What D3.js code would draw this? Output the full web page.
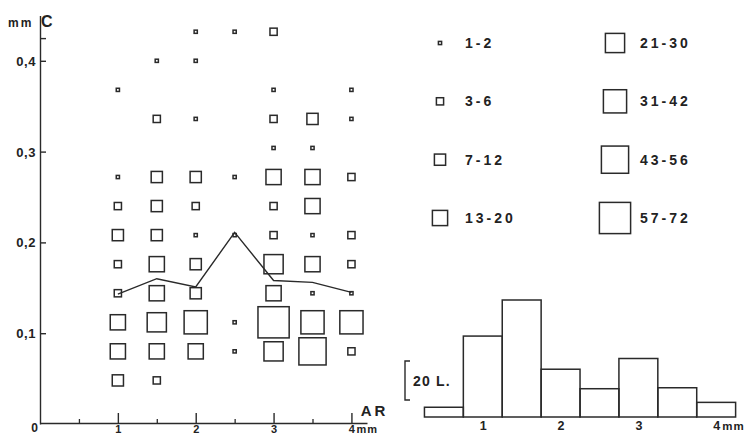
<!DOCTYPE html>
<html>
<head>
<meta charset="utf-8">
<script src="https://cdn.jsdelivr.net/npm/d3@7"></script>
<style>
  body { margin: 0; background: #fff; }
  svg { display: block; }
  text { font-family: "Liberation Sans", Arial, sans-serif; font-weight: bold; fill: #222; }
</style>
</head>
<body>
<svg id="chart" width="747" height="434"></svg>
<script>
// Root-length classes (AR, mm) and diameter classes (C, mm)
const arClasses = [1, 1.5, 2, 2.5, 3, 3.5, 4];
const cClasses = [0.432, 0.400, 0.368, 0.336, 0.304, 0.272, 0.240, 0.208, 0.176, 0.144, 0.112, 0.080, 0.048];

// Frequency class (1..8, 0 = none) for each C row (top to bottom) and AR column
const freqClass = [
  [0, 0, 1, 1, 2, 0, 0],
  [0, 1, 1, 0, 0, 0, 0],
  [1, 0, 0, 0, 1, 0, 1],
  [0, 2, 1, 0, 2, 3, 1],
  [0, 0, 0, 0, 1, 1, 0],
  [1, 3, 3, 1, 4, 4, 2],
  [2, 3, 2, 0, 2, 4, 0],
  [3, 3, 1, 1, 2, 1, 2],
  [2, 4, 3, 0, 5, 4, 2],
  [2, 4, 3, 0, 4, 1, 1],
  [4, 5, 6, 1, 8, 6, 6],
  [4, 4, 4, 1, 5, 7, 2],
  [3, 2, 0, 0, 0, 0, 0]
];

// Mean C per AR class
const meanC = [0.143, 0.160, 0.151, 0.211, 0.158, 0.156, 0.145];

// Legend: frequency ranges of the eight square sizes
const legendLabels = ["1-2", "3-6", "7-12", "13-20", "21-30", "31-42", "43-56", "57-72"];

// Histogram of AR
const histAR = [0.5, 1, 1.5, 2, 2.5, 3, 3.5, 4];
const histCount = [5, 41.5, 60, 24.5, 14.5, 30, 15, 7.5];

const yTickValues = [0, 0.1, 0.2, 0.3, 0.4];
const yTickLabels = ["0", "0,1", "0,2", "0,3", "0,4"];
const xTickValues = [1, 2, 3, 4];
const xTickLabels = ["1", "2", "3", "4"];

const ink = "#2a2a2a";
const svg = d3.select("#chart");

// ---------- scatter of square symbols ----------
const x = d3.scaleLinear().domain([0, 4.2]).range([40, 367]);
const y = d3.scaleLinear().domain([0, 0.45]).range([424, 15.4]);
const side = d3.scaleLinear().domain([0, 8]).range([-0.8, 31.2]);

// y axis: ticks point inward (right), labels on the left
const yAxis = d3.axisLeft(y)
  .tickValues([0.1, 0.2, 0.3, 0.4, 0.425])
  .tickSizeInner(-6).tickSizeOuter(0).tickPadding(4)
  .tickFormat(d => { const i = yTickValues.indexOf(d); return i >= 0 ? yTickLabels[i] : ""; });
const gy = svg.append("g").attr("transform", `translate(${x(0)},0)`).call(yAxis);
gy.selectAll("path, line").attr("stroke", ink).attr("stroke-width", 1.4);
gy.selectAll("text").attr("font-size", 13).attr("font-family", null).attr("letter-spacing", 0.6).attr("dy", "0.35em");

// zero label at the corner
svg.append("text").attr("x", x(0) - 2).attr("y", 432)
  .attr("text-anchor", "end").attr("font-size", 12).text(yTickLabels[0]);

// x axis: major ticks point upward, labels below
const xAxis = d3.axisBottom(x)
  .tickValues(xTickValues).tickSizeInner(-10).tickSizeOuter(0).tickPadding(2)
  .tickFormat((d, i) => xTickLabels[i]);
const gx = svg.append("g").attr("transform", `translate(0,${y(0) - 1})`).call(xAxis);
gx.selectAll("path, line").attr("stroke", ink).attr("stroke-width", 1.4);
gx.selectAll("text").attr("font-size", 11).attr("font-family", null).attr("dy", "0.72em");

// minor ticks at the half-millimetre classes
const gxm = svg.append("g").attr("transform", `translate(0,${y(0) - 1})`)
  .call(d3.axisBottom(x).tickValues([0.5, 1.5, 2.5, 3.5]).tickSizeInner(-4).tickSizeOuter(0).tickFormat(""));
gxm.select(".domain").remove();
gxm.selectAll("line").attr("stroke", ink).attr("stroke-width", 1.3);

// unit of the last tick and axis titles
svg.append("text").attr("x", x(4) + 5).attr("y", 433).attr("font-size", 11).attr("letter-spacing", 1).text("mm");
svg.append("text").attr("x", x(4.12)).attr("y", y(0) - 8).attr("font-size", 15).attr("letter-spacing", 3).text("AR");
svg.append("text").attr("x", 8).attr("y", 27).attr("font-size", 12).attr("letter-spacing", 2).text("mm");
svg.append("text").attr("x", 41).attr("y", 27).attr("font-size", 16).text("C");

// squares
const cells = [];
freqClass.forEach((row, ri) => row.forEach((k, ci) => {
  if (k > 0) cells.push({ ar: arClasses[ci], c: cClasses[ri], k });
}));
svg.append("g").selectAll("rect").data(cells).join("rect")
  .attr("x", d => x(d.ar) - side(d.k) / 2)
  .attr("y", d => y(d.c) - side(d.k) / 2)
  .attr("width", d => side(d.k))
  .attr("height", d => side(d.k))
  .attr("fill", "none").attr("stroke", ink).attr("stroke-width", 1.5);

// mean line
svg.append("path")
  .datum(arClasses.map((a, i) => [a, meanC[i]]))
  .attr("d", d3.line().x(d => x(d[0])).y(d => y(d[1])))
  .attr("fill", "none").attr("stroke", ink).attr("stroke-width", 1.4);

// ---------- legend ----------
const legendCol = d3.scalePoint().domain([0, 1]).range([440, 615]);
const legendRow = d3.scalePoint().domain([0, 1, 2, 3]).range([43, 218]);
const lg = svg.append("g").selectAll("g").data(legendLabels).join("g")
  .attr("transform", (d, i) => `translate(${legendCol(Math.floor(i / 4))},${legendRow(i % 4)})`);
lg.append("rect")
  .attr("x", (d, i) => -side(i + 1) / 2).attr("y", (d, i) => -side(i + 1) / 2)
  .attr("width", (d, i) => side(i + 1)).attr("height", (d, i) => side(i + 1))
  .attr("fill", "none").attr("stroke", ink).attr("stroke-width", 1.5);
lg.append("text")
  .attr("x", 25).attr("y", 5)
  .attr("font-size", 14).attr("letter-spacing", 3).text(d => d);

// ---------- histogram ----------
const hx = d3.scaleLinear().domain([0, 4.3]).range([405, 739.5]);
const hy = d3.scaleLinear().domain([0, 20]).range([417, 378]);
svg.append("g").selectAll("rect").data(histAR).join("rect")
  .attr("x", (d) => hx(d - 0.25))
  .attr("y", (d, i) => hy(histCount[i]))
  .attr("width", hx(0.5) - hx(0))
  .attr("height", (d, i) => hy(0) - hy(histCount[i]))
  .attr("fill", "none").attr("stroke", ink).attr("stroke-width", 1.5);

const hAxis = d3.axisBottom(hx).tickValues(xTickValues).tickSize(0).tickPadding(2)
  .tickFormat((d, i) => xTickLabels[i]);
const gh = svg.append("g").attr("transform", `translate(0,${hy(0)})`).call(hAxis);
gh.select(".domain").remove();
gh.selectAll("text").attr("font-size", 12.5).attr("font-family", null).attr("dy", "0.9em");
svg.append("text").attr("x", hx(4) + 6).attr("y", hy(0) + 13).attr("font-size", 11.5).attr("letter-spacing", 1).text("mm");

// 20-unit scale bracket
const bx = 405;
svg.append("path")
  .attr("d", `M${bx + 5},${hy(20) - 17}H${bx}V${hy(0) - 17}H${bx + 5}`)
  .attr("fill", "none").attr("stroke", ink).attr("stroke-width", 1.4);
svg.append("text").attr("x", 413).attr("y", hy(10) - 12).attr("font-size", 14).attr("letter-spacing", 1.2).text("20 L.");
</script>
</body>
</html>
